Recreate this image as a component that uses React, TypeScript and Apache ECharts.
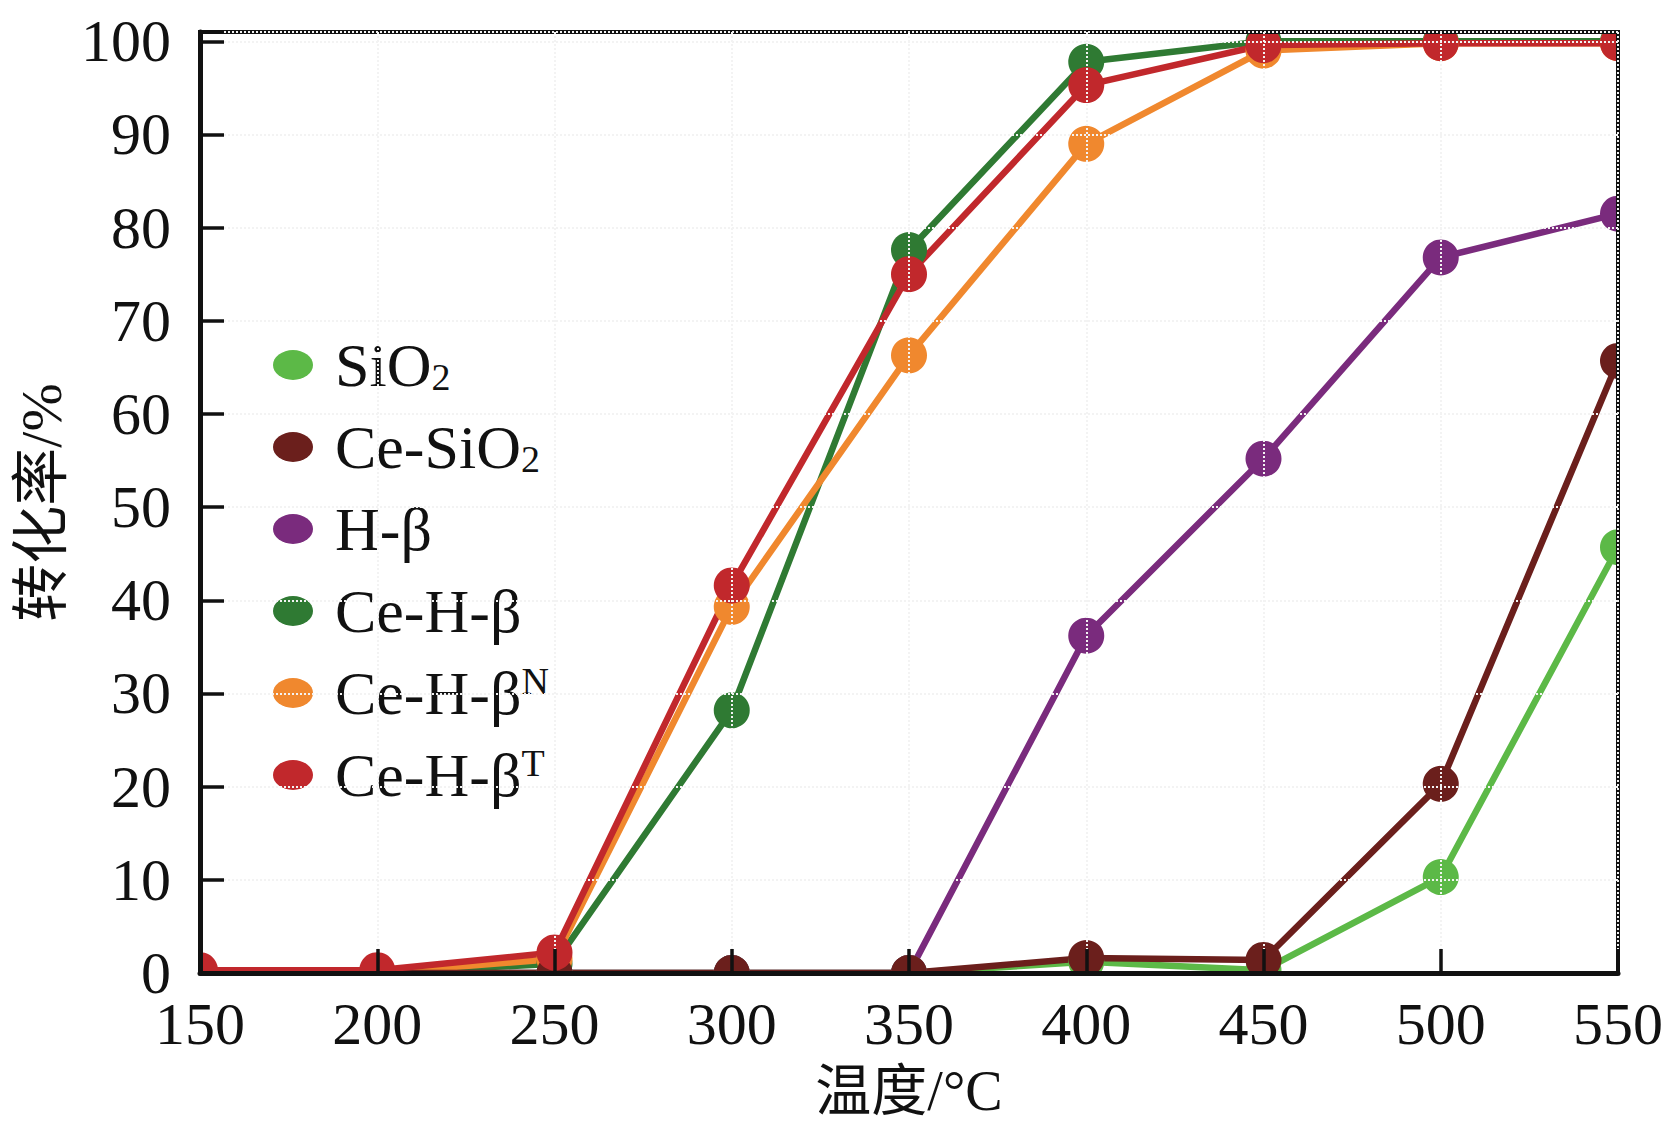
import React, { useEffect, useRef } from "react";
import * as echarts from "echarts";

const temps = [150, 200, 250, 300, 350, 400, 450, 500, 550];
const sio2 = [0, 0, 0, 0, 0, 1.2, 0.3, 10.3, 45.7];
const ceSio2 = [0, 0, 0, 0, 0, 1.6, 1.4, 20.3, 65.7];
const hBeta = [0, 0, 0, 0, 0, 36.2, 55.2, 76.8, 81.5];
const ceHBeta = [0, 0, 1, 28.2, 77.6, 97.8, 100, 100, 100];
const ceHBetaN = [0, 0, 1.5, 39.3, 66.3, 89, 99, 99.8, 99.8];
const ceHBetaT = [0.3, 0.3, 2.2, 41.6, 75, 95.3, 99.6, 99.8, 99.8];

const legendNames = ["SiO2", "Ce-SiO2", "H-β", "Ce-H-β", "Ce-H-βN", "Ce-H-βT"];
const legendRich: Record<string, string> = {
  "SiO2": "{g| }{t|SiO}{sub|2}",
  "Ce-SiO2": "{g| }{t|Ce-SiO}{sub|2}",
  "H-β": "{g| }{t|H-β}",
  "Ce-H-β": "{g| }{t|Ce-H-β}",
  "Ce-H-βN": "{g| }{t|Ce-H-β}{sup|N}",
  "Ce-H-βT": "{g| }{t|Ce-H-β}{sup|T}",
};
const colors: Record<string, string> = {
  "SiO2": "#5cb947",
  "Ce-SiO2": "#6b1f1c",
  "H-β": "#7a2b7d",
  "Ce-H-β": "#2f7a33",
  "Ce-H-βN": "#f0882e",
  "Ce-H-βT": "#c1282c",
};
// drawing order (later on top)
const drawOrder: [string, number[]][] = [
  ["SiO2", sio2],
  ["H-β", hBeta],
  ["Ce-H-β", ceHBeta],
  ["Ce-H-βN", ceHBetaN],
  ["Ce-SiO2", ceSio2],
  ["Ce-H-βT", ceHBetaT],
];

const FONT = "'Liberation Serif', 'Times New Roman', 'Noto Sans CJK SC', serif";
const ELLIPSE = "path://M0,15 A20,15 0 1,1 40,15 A20,15 0 1,1 0,15 Z";

export default function App() {
  const ref = useRef<HTMLDivElement>(null);
  useEffect(() => {
    document.body.style.margin = "0";
    if (!ref.current) return;
    const chart = echarts.init(ref.current, undefined, { renderer: "svg" });
    const L = 200, R = 1618, T = 32, B = 973;
    chart.setOption({
      animation: false,
      backgroundColor: "#ffffff",
      grid: {
        left: L,
        right: 1680 - R,
        top: T,
        bottom: 1132 - B,
        show: true,
        borderColor: "#111",
        borderWidth: 4,
        z: 10,
      },
      legend: {
        data: legendNames,
        orient: "vertical",
        left: 268,
        top: 329,
        itemWidth: 40,
        itemHeight: 30,
        itemGap: 20,
        icon: ELLIPSE,
        selectedMode: false,
        formatter: (name: string) => legendRich[name] || name,
        textStyle: {
          fontFamily: FONT,
          color: "#111",
          fontSize: 62,
          rich: {
            g: { width: 17, fontSize: 20 },
            t: { fontFamily: FONT, fontSize: 62, lineHeight: 62, color: "#111" },
            sub: { fontFamily: FONT, fontSize: 38, lineHeight: 26, verticalAlign: "bottom", color: "#111" },
            sup: { fontFamily: FONT, fontSize: 38, lineHeight: 46, verticalAlign: "top", color: "#111" },
          },
        },
      },
      xAxis: {
        type: "value",
        min: 150,
        max: 550,
        interval: 50,
        z: 10,
        name: "温度/°C",
        nameLocation: "middle",
        nameGap: 90,
        nameTextStyle: { fontFamily: FONT, fontSize: 56, color: "#111" },
        axisLine: { show: true, lineStyle: { color: "#111", width: 5 } },
        axisTick: { show: true, inside: true, length: 24, lineStyle: { color: "#111", width: 3.5 } },
        axisLabel: { margin: 27, lineHeight: 48, fontFamily: FONT, fontSize: 60, color: "#111" },
        splitLine: { show: true, lineStyle: { color: "#f3f3f3", type: "dotted", width: 2 } },
      },
      yAxis: {
        type: "value",
        min: 0,
        max: 101,
        interval: 10,
        z: 10,
        name: "转化率/%",
        nameLocation: "middle",
        nameGap: 128,
        nameTextStyle: { fontFamily: FONT, fontSize: 58, color: "#111" },
        axisLine: { show: true, lineStyle: { color: "#111", width: 5 } },
        axisTick: { show: true, inside: true, length: 24, lineStyle: { color: "#111", width: 3.5 } },
        axisLabel: {
          margin: 29,
          lineHeight: 48,
          fontFamily: FONT,
          fontSize: 60,
          color: "#111",
          formatter: (v: number) => (Math.round(v) % 10 === 0 && v <= 100 ? String(v) : ""),
        },
        splitLine: { show: true, lineStyle: { color: "#f3f3f3", type: "dotted", width: 2 } },
      },
      graphic: [
        { type: "rect", z: 5, silent: true, shape: { x: 176, y: 0, width: 22, height: 1000 }, style: { fill: "#fff" } },
        { type: "rect", z: 5, silent: true, shape: { x: 176, y: 0, width: 1504, height: 30 }, style: { fill: "#fff" } },
        { type: "rect", z: 5, silent: true, shape: { x: 1620, y: 0, width: 60, height: 998 }, style: { fill: "#fff" } },
        { type: "rect", z: 5, silent: true, shape: { x: 176, y: 975, width: 1504, height: 20 }, style: { fill: "#fff" } },
      ],
      series: drawOrder.map(([name, vals]) => ({
        name,
        type: "line",
        data: temps.map((t, i) => [t, vals[i]]),
        symbol: "circle",
        symbolSize: 36,
        clip: false,
        lineStyle: { color: colors[name], width: 6.5 },
        itemStyle: { color: colors[name] },
        emphasis: { disabled: true },
      })),
    });
    return () => chart.dispose();
  }, []);
  return <div ref={ref} style={{ width: 1680, height: 1132 }} />;
}
